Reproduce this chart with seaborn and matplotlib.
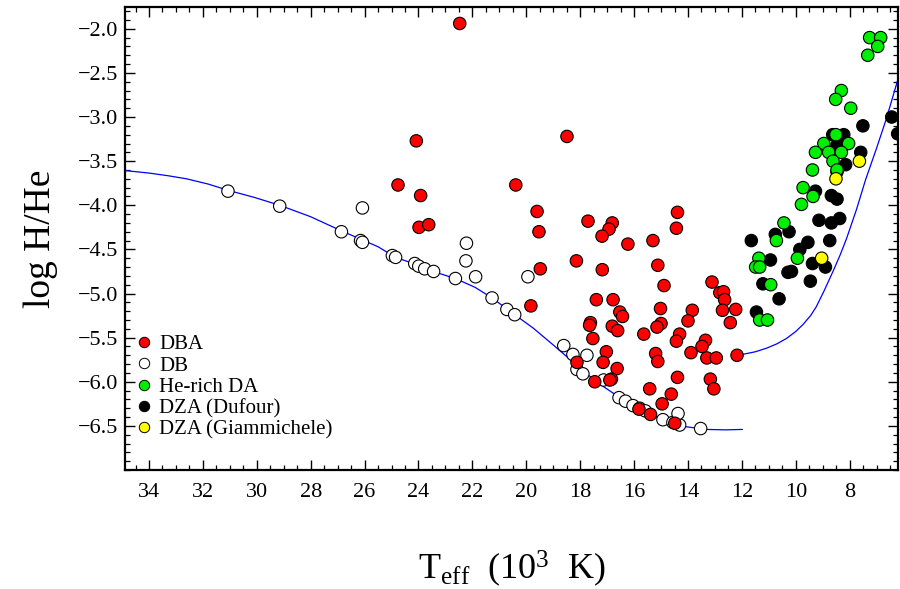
import numpy as np
import pandas as pd
import matplotlib
matplotlib.use("Agg")
import matplotlib.pyplot as plt
import seaborn as sns
from matplotlib.ticker import MultipleLocator
from matplotlib.lines import Line2D

# ---------------- data ----------------
db_T = [31.07, 29.15, 26.08, 26.86, 26.15, 26.08, 24.97, 24.85, 24.14, 23.99, 23.77, 23.44,
        22.63, 22.22, 22.24, 21.88, 21.27, 20.72, 20.43, 19.94, 18.61, 18.27, 17.75, 18.12,
        17.90, 17.13, 16.56, 16.32, 16.04, 15.79, 15.58, 14.93, 14.56, 14.31, 14.37, 13.53]
db_H = [-3.84, -4.01, -4.03, -4.30, -4.40, -4.42, -4.57, -4.59, -4.66, -4.69, -4.72, -4.75,
        -4.83, -4.43, -4.63, -4.81, -5.05, -5.18, -5.24, -4.81, -5.59, -5.69, -5.70, -5.86,
        -5.91, -5.98, -6.18, -6.22, -6.27, -6.30, -6.33, -6.43, -6.46, -6.49, -6.36, -6.53]

dba_T = [22.47, 24.08, 24.76, 23.92, 23.98, 23.62, 20.39, 18.49, 19.60, 19.53, 17.71, 16.81,
         16.93, 17.19, 16.23, 15.30, 14.39, 14.43, 18.14, 19.48, 17.18, 15.12, 14.89, 13.11,
         12.82, 12.68, 12.64, 12.72, 12.23, 12.43, 19.83, 17.40, 16.78, 16.53, 16.43, 17.62,
         17.65, 16.81, 16.61, 17.53, 15.02, 15.00, 15.15, 15.64, 13.84, 14.00, 14.31, 14.43,
         13.35, 13.48, 13.89, 13.30, 12.95, 12.18, 17.03, 17.15, 18.12, 16.63, 16.84, 16.90,
         17.46, 15.20, 15.12, 14.39, 13.17, 13.04, 15.42, 14.62, 14.96, 15.39, 14.49, 15.82]
dba_H = [-1.94, -3.27, -3.77, -3.89, -4.25, -4.22, -3.77, -3.22, -4.07, -4.30, -4.18, -4.20,
         -4.27, -4.35, -4.44, -4.40, -4.08, -4.26, -4.63, -4.72, -4.73, -4.68, -4.91, -4.87,
         -4.99, -4.98, -5.07, -5.19, -5.18, -5.33, -5.14, -5.07, -5.07, -5.21, -5.26, -5.33,
         -5.36, -5.37, -5.42, -5.51, -5.17, -5.34, -5.38, -5.46, -5.19, -5.31, -5.46, -5.54,
         -5.53, -5.60, -5.67, -5.73, -5.73, -5.70, -5.66, -5.78, -5.78, -5.85, -5.97, -5.98,
         -6.00, -5.68, -5.77, -5.95, -5.97, -6.08, -6.08, -6.14, -6.25, -6.37, -6.47, -6.31]

dzad_T = [6.44, 6.22, 7.51, 8.22, 8.63, 8.47, 8.26, 7.59, 8.15, 8.47, 9.27, 8.68, 8.47,
          9.14, 8.68, 8.37, 10.25, 10.76, 11.65, 9.55, 8.74, 9.85, 10.94, 9.38, 8.90,
          10.29, 10.16, 11.22, 9.46, 10.62, 11.46]
dzad_H = [-3.00, -3.19, -3.10, -3.20, -3.20, -3.32, -3.33, -3.40, -3.54, -3.62, -3.84, -3.89,
          -3.93, -4.17, -4.20, -4.15, -4.30, -4.33, -4.40, -4.42, -4.40, -4.50, -4.62, -4.66,
          -4.70, -4.76, -4.75, -4.89, -4.86, -5.06, -5.21]

heda_T = [7.26, 6.85, 6.96, 7.33, 8.31, 8.52, 7.96, 8.51, 8.96, 8.04, 9.27, 8.78, 8.31, 8.62,
          9.38, 8.47, 9.73, 9.36, 9.79, 10.44, 10.72, 11.37, 11.49, 11.34, 9.94, 10.93,
          11.34, 11.05]
heda_H = [-2.10, -2.10, -2.20, -2.30, -2.70, -2.80, -2.90, -3.20, -3.30, -3.30, -3.40, -3.40,
          -3.40, -3.50, -3.60, -3.60, -3.80, -3.90, -3.99, -4.20, -4.40, -4.60, -4.70, -4.70,
          -4.60, -4.90, -5.30, -5.30]

dzag_T = [7.64, 8.51, 9.04]
dzag_H = [-3.50, -3.70, -4.60]

curve1_T = [35.10, 34.00, 33.30, 32.61, 31.80, 31.07, 30.10, 29.15, 28.00, 26.86, 26.10,
            25.50, 24.85, 24.10, 23.46, 22.63, 21.90, 21.27, 20.43, 19.75, 19.01, 18.14,
            17.40, 16.53, 15.79, 14.93, 14.06, 13.32, 12.60, 11.98]
curve1_H = [-3.60, -3.635, -3.665, -3.70, -3.76, -3.83, -3.91, -4.00, -4.13, -4.29, -4.39,
            -4.47, -4.59, -4.67, -4.75, -4.83, -4.93, -5.05, -5.24, -5.39, -5.58, -5.81,
            -6.00, -6.18, -6.32, -6.43, -6.51, -6.54, -6.545, -6.54]
curve2_T = [11.98, 11.50, 11.09, 10.70, 10.35, 10.00, 9.73, 9.45, 9.24, 8.95, 8.62, 8.35,
            8.12, 7.75, 7.41, 7.01, 6.64, 6.14]
curve2_H = [-5.69, -5.66, -5.62, -5.57, -5.51, -5.43, -5.35, -5.25, -5.15, -4.97, -4.75,
            -4.56, -4.38, -4.05, -3.71, -3.36, -3.02, -2.50]

labels = ["DBA", "DB", "He-rich DA", "DZA (Dufour)", "DZA (Giammichele)"]
colors = {"DBA": "#ff0000", "DB": "#ffffff", "He-rich DA": "#00ee00",
          "DZA (Dufour)": "#000000", "DZA (Giammichele)": "#ffff00"}

x_ticks = [34, 32, 30, 28, 26, 24, 22, 20, 18, 16, 14, 12, 10, 8]
y_ticks = [-6.5, -6.0, -5.5, -5.0, -4.5, -4.0, -3.5, -3.0, -2.5, -2.0]

# draw order: DB, DBA, Dufour, He-rich DA, Giammichele
df = pd.concat([
    pd.DataFrame({"T": db_T, "H": db_H, "type": "DB"}),
    pd.DataFrame({"T": dba_T, "H": dba_H, "type": "DBA"}),
    pd.DataFrame({"T": dzad_T, "H": dzad_H, "type": "DZA (Dufour)"}),
    pd.DataFrame({"T": heda_T, "H": heda_H, "type": "He-rich DA"}),
    pd.DataFrame({"T": dzag_T, "H": dzag_H, "type": "DZA (Giammichele)"}),
], ignore_index=True)

# ---------------- style ----------------
sns.set_theme(style="ticks")
plt.rcParams["font.family"] = ["Liberation Serif", "DejaVu Serif"]
plt.rcParams["mathtext.fontset"] = "custom"
plt.rcParams["mathtext.rm"] = "Liberation Serif"
plt.rcParams["mathtext.it"] = "Liberation Serif:italic"
plt.rcParams["text.color"] = "black"
plt.rcParams["axes.labelcolor"] = "black"
plt.rcParams["xtick.color"] = "black"
plt.rcParams["ytick.color"] = "black"
plt.rcParams["xtick.labelcolor"] = "black"
plt.rcParams["ytick.labelcolor"] = "black"

fig = plt.figure(figsize=(9, 5.89), dpi=100)
ax = fig.add_axes([0.1386, 0.2020, 0.8594, 0.7866])

sns.lineplot(x=curve1_T, y=curve1_H, sort=False, estimator=None, color="#0000ff",
             lw=0.9, ax=ax, zorder=2)
sns.lineplot(x=curve2_T, y=curve2_H, sort=False, estimator=None, color="#0000ff",
             lw=0.9, ax=ax, zorder=2)

sns.scatterplot(data=df, x="T", y="H", hue="type", palette=colors, s=80,
                edgecolor="black", linewidth=0.8, legend=False, ax=ax, zorder=3)

ax.set_xlim(34.9, 6.2)
ax.set_ylim(-7.0, -1.75)
ax.set_xticks(x_ticks)
ax.set_xticklabels([str(v) for v in x_ticks])
ax.set_yticks(y_ticks)
ax.set_yticklabels([("%.1f" % v).replace("-", "\u2212") for v in y_ticks])
ax.xaxis.set_minor_locator(MultipleLocator(0.5))
ax.yaxis.set_minor_locator(MultipleLocator(0.1))
ax.tick_params(which="both", direction="in", top=True, right=True, color="black")
ax.tick_params(which="major", length=7.5, width=1.0, labelsize=16, pad=9)
ax.tick_params(axis="y", which="major", pad=5)
ax.tick_params(which="minor", length=3.8, width=0.9)
for sp in ax.spines.values():
    sp.set_linewidth(1.6)
    sp.set_color("black")

ax.set_xlabel(r"T$_{\rm eff}$  (10$^3$  K)", fontsize=26, labelpad=34, color="black")
ax.set_ylabel("log H/He", fontsize=27, labelpad=14, color="black")

handles = [Line2D([], [], marker="o", linestyle="", markerfacecolor=colors[l],
                  markeredgecolor="black", markeredgewidth=0.7, markersize=7.5)
           for l in labels]
leg = ax.legend(handles, labels, loc="lower left", bbox_to_anchor=(0.012, 0.066),
                frameon=False, fontsize=15, handletextpad=0.2, labelspacing=0.08,
                borderpad=0, borderaxespad=0, handlelength=1.0)
for t in leg.get_texts():
    t.set_color("black")

fig.savefig("out.png", dpi=100)
